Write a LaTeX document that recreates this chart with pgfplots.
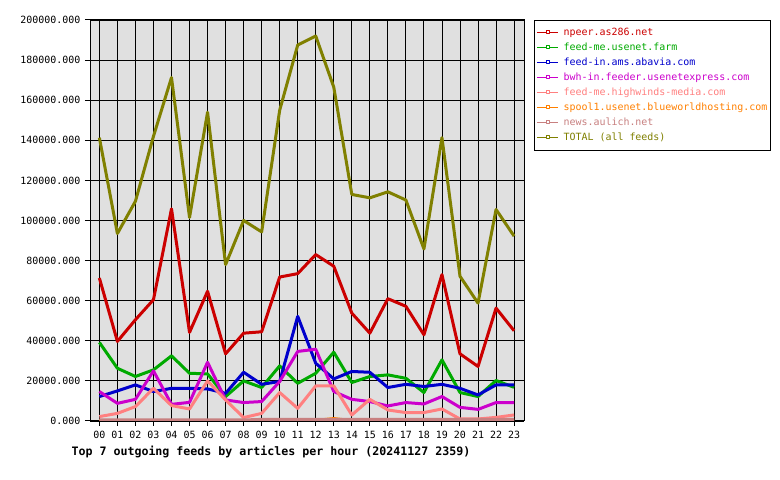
\documentclass[border=0pt]{standalone}
\usepackage{fontspec}
\setmainfont{DejaVu Sans Mono}
\usepackage{pgfplots}
\usepackage{pgfplotstable}
\pgfplotsset{compat=1.18}
\definecolor{cnpeer}{HTML}{CC0000}
\definecolor{cgreen}{HTML}{00AA00}
\definecolor{cblue}{HTML}{0000CC}
\definecolor{cmag}{HTML}{CC00CC}
\definecolor{csalmon}{HTML}{FF8080}
\definecolor{corange}{HTML}{FF8000}
\definecolor{cnews}{HTML}{C88080}
\definecolor{ctotal}{HTML}{808000}
\definecolor{plotbg}{HTML}{E0E0E0}
\pgfplotstableread{
h npeer green blue mag salmon orange news total
0 71300 39200 12200 14700 2200 200 500 141300
1 39700 26300 15000 8800 3800 200 500 93500
2 50500 22200 18000 10800 7200 200 500 109600
3 60500 25500 14700 25000 16300 200 500 142000
4 105800 32500 16300 8300 7700 200 500 171300
5 44200 23800 16300 9300 6000 200 500 101500
6 64700 23500 16000 29300 20000 200 500 154000
7 33500 12200 13800 10500 10500 200 500 78000
8 43800 20000 24300 9200 1700 200 500 100000
9 44500 16700 18300 9700 3800 200 800 94300
10 71800 27500 19700 19700 14200 200 800 155000
11 73500 18800 52200 34700 6300 200 800 187500
12 83000 23800 28800 35800 17500 300 800 192000
13 77200 34300 21000 14700 17500 1200 800 166500
14 53800 19200 24700 10800 3000 200 800 113000
15 43800 22200 24300 9700 10800 200 800 111300
16 61000 23000 16700 7500 5500 200 800 114300
17 57200 21300 18300 9200 4200 200 800 110200
18 43000 14200 17200 8500 4200 200 800 85800
19 73000 30500 18300 12200 6000 200 800 141300
20 33500 14200 16300 6800 1000 200 800 72200
21 27200 12200 13000 5800 1000 200 800 58800
22 56300 20200 18000 9200 1800 200 800 105500
23 45000 16800 18000 9200 3000 200 800 92200
}\feeds
\begin{document}
\begin{tikzpicture}
\path[use as bounding box] (0,0) rectangle (780bp,480bp);
\begin{axis}[
  at={(90bp,59bp)}, anchor=south west,
  scale only axis, width=434bp, height=401bp,
  xmin=-0.52, xmax=23.55, ymin=0, ymax=200000,
  axis background/.style={fill=plotbg},
  xtick={0,...,23},
  xticklabels={00,01,02,03,04,05,06,07,08,09,10,11,12,13,14,15,16,17,18,19,20,21,22,23},
  ytick={0,20000,...,200000},
  yticklabels={0.000,20000.000,40000.000,60000.000,80000.000,100000.000,120000.000,140000.000,160000.000,180000.000,200000.000},
  scaled y ticks=false,
  grid=major, major grid style={black, line width=0.9bp},
  axis line style={black, line width=1bp},
  tick align=outside, major tick length=5bp, tick style={black, line width=1bp},
  xtick pos=left, ytick pos=left,
  tick label style={font=\fontsize{10}{12}\selectfont},
  yticklabel style={xshift=-1bp},
  xticklabel style={yshift=-2bp},
  every axis plot/.append style={line width=3bp, line join=round, no markers},
  legend style={at={(axis description cs:1.0231,1)}, anchor=north west,
    draw=black, line width=1bp, fill=white,
    font=\fontsize{10}{12}\selectfont,
    nodes={inner sep=1bp, text height=8bp, text depth=2bp},
    row sep=3bp, inner xsep=2bp, inner ysep=6.3bp},
  legend cell align=left,
  legend image code/.code={
    \draw[#1, line width=1bp] (-1bp,0) -- (20bp,0);
    \draw[#1, line width=0.8bp, fill=white] (8bp,-0.5bp) rectangle (11bp,2.5bp);
    \path (23bp,0);
  },
]
\addplot[cnpeer] table[x=h, y=npeer] {\feeds};
\addlegendentry[text=cnpeer]{npeer.as286.net}
\addplot[cgreen] table[x=h, y=green] {\feeds};
\addlegendentry[text=cgreen]{feed-me.usenet.farm}
\addplot[cblue] table[x=h, y=blue] {\feeds};
\addlegendentry[text=cblue]{feed-in.ams.abavia.com}
\addplot[cmag] table[x=h, y=mag] {\feeds};
\addlegendentry[text=cmag]{bwh-in.feeder.usenetexpress.com}
\addplot[csalmon] table[x=h, y=salmon] {\feeds};
\addlegendentry[text=csalmon]{feed-me.highwinds-media.com}
\addplot[corange] table[x=h, y=orange] {\feeds};
\addlegendentry[text=corange]{spool1.usenet.blueworldhosting.com}
\addplot[cnews] table[x=h, y=news] {\feeds};
\addlegendentry[text=cnews]{news.aulich.net}
\addplot[ctotal] table[x=h, y=total] {\feeds};
\addlegendentry[text=ctotal]{TOTAL (all feeds)}
\end{axis}
\node[font=\bfseries\fontsize{11.67}{14}\selectfont] at (271bp,27.8bp) {Top 7 outgoing feeds by articles per hour (20241127 2359)};
\end{tikzpicture}
\end{document}
